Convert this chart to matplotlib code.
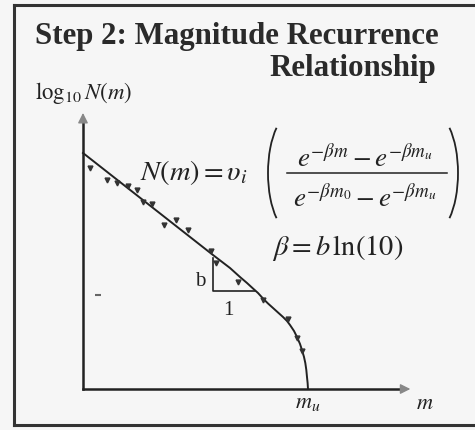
import matplotlib
matplotlib.use("Agg")
import matplotlib.pyplot as plt
from matplotlib.lines import Line2D
from matplotlib.patches import Arc

plt.rcParams["mathtext.fontset"] = "stix"

# magnitude / log10 N (arbitrary units, b ~ 1)
curve_m = [3.000, 6.095, 6.500, 6.738, 6.905, 7.048, 7.167, 7.286, 7.405, 7.524,
           7.643, 7.762, 7.857, 7.929, 8.024, 8.095, 8.167, 8.214, 8.262, 8.293,
           8.317, 8.333, 8.348, 8.357]
curve_logn = [7.152, 4.061, 3.667, 3.394, 3.212, 3.045, 2.909, 2.742, 2.591, 2.455,
              2.318, 2.182, 2.061, 1.939, 1.758, 1.576, 1.364, 1.182, 0.970, 0.788,
              0.576, 0.364, 0.182, 0.0]

obs_m = [3.17, 3.57, 3.81, 4.07, 4.29, 4.43, 4.64, 4.93, 5.21, 5.50, 6.05, 6.17,
         6.69, 7.29, 7.88, 8.10, 8.21]
obs_logn = [6.70, 6.33, 6.24, 6.15, 6.03, 5.67, 5.61, 4.97, 5.12, 4.82, 4.18, 3.82,
            3.24, 2.70, 2.12, 1.55, 1.15]

stray_m, stray_logn = 3.36, 2.85
m_u = 8.36
m_axis_end = 10.86
logn_axis_end = 8.45
tri_m0, tri_logn0 = 6.095, 2.97  # slope triangle corner

INK = "#222222"

fig = plt.figure(figsize=(4.75, 4.3), dpi=100)
fig.patch.set_facecolor("#f6f6f6")
ax = fig.add_axes([0, 0, 1, 1])
ax.set_facecolor("none")
ax.set_xlim(1.024, 12.333)
ax.set_ylim(-1.2424, 11.788)
ax.axis("off")

# overlay in slide pixels for the frame / formula layout
lay = fig.add_axes([0, 0, 1, 1])
lay.set_facecolor("none")
lay.set_xlim(0, 475)
lay.set_ylim(430, 0)
lay.axis("off")

# slide frame
for xs, ys in [([14, 14], [5, 425]), ([14, 475], [5, 5]), ([14, 475], [425, 425])]:
    lay.add_line(Line2D(xs, ys, color="#333333", lw=2.2))

lay.text(35, 44, "Step 2: Magnitude Recurrence", ha="left", va="baseline",
         fontsize=22.2, family="Liberation Serif", weight="bold", color="#2a2a2a")
lay.text(436, 76, "Relationship", ha="right", va="baseline",
         fontsize=22.2, family="Liberation Serif", weight="bold", color="#2a2a2a")

# axes
ax.plot([3, 3], [0, logn_axis_end - 0.25], color=INK, lw=1.8)
ax.plot([3, m_axis_end - 0.25], [0, 0], color=INK, lw=1.8)
ax.annotate("", xy=(3, logn_axis_end), xytext=(3, logn_axis_end - 0.35),
            arrowprops=dict(arrowstyle="-|>,head_length=0.6,head_width=0.3",
                            color="#888888", lw=1))
ax.annotate("", xy=(m_axis_end, 0), xytext=(m_axis_end - 0.35, 0),
            arrowprops=dict(arrowstyle="-|>,head_length=0.6,head_width=0.3",
                            color="#888888", lw=1))

ax.plot(curve_m, curve_logn, color=INK, lw=1.4)
ax.plot(obs_m, obs_logn, "v", color="#333333", ms=3.5, ls="none")
ax.plot([stray_m], [stray_logn], "_", color="#666666", ms=4, mew=1.5)

# slope triangle
ax.plot([tri_m0, tri_m0, tri_m0 + 1], [tri_logn0 + 1, tri_logn0, tri_logn0],
        color=INK, lw=1.2)
ax.text(tri_m0 - 0.3, tri_logn0 + 0.3, "b", ha="center", va="center",
        fontsize=15, family="Liberation Serif", color=INK)
ax.text(tri_m0 + 0.36, tri_logn0 - 0.58, "1", ha="center", va="center",
        fontsize=15, family="Liberation Serif", color=INK)

ax.text(3 - 1.15, 8.8, r"$\log_{10}N(m)$", ha="left", va="baseline",
        fontsize=16.5, color=INK)
ax.text(m_u, -0.42, r"$m_u$", ha="center", va="center", fontsize=16, color=INK)
ax.text(11.14, -0.42, r"$m$", ha="center", va="center", fontsize=16, color=INK)

# N(m) formula, laid out piece by piece like the slide
lay.text(140, 180, r"$N(m) = \upsilon_i$", ha="left", va="baseline",
         fontsize=20.5, color=INK)
lay.text(365, 167, r"$e^{-\beta m} - e^{-\beta m_u}$", ha="center", va="baseline",
         fontsize=19.5, color=INK)
lay.plot([287, 447], [173, 173], color=INK, lw=1.1)
lay.text(365, 207, r"$e^{-\beta m_0} - e^{-\beta m_u}$", ha="center", va="baseline",
         fontsize=19.5, color=INK)
lay.add_patch(Arc((293, 173), 50, 120, theta1=110, theta2=250, color=INK, lw=1.3))
lay.add_patch(Arc((433, 173), 50, 120, theta1=-70, theta2=70, color=INK, lw=1.3))

lay.text(338, 248, r"$\beta = b\,\ln(10)$", ha="center", va="center",
         fontsize=20.5, color=INK)

fig.savefig("out.png", dpi=100, facecolor=fig.get_facecolor())
